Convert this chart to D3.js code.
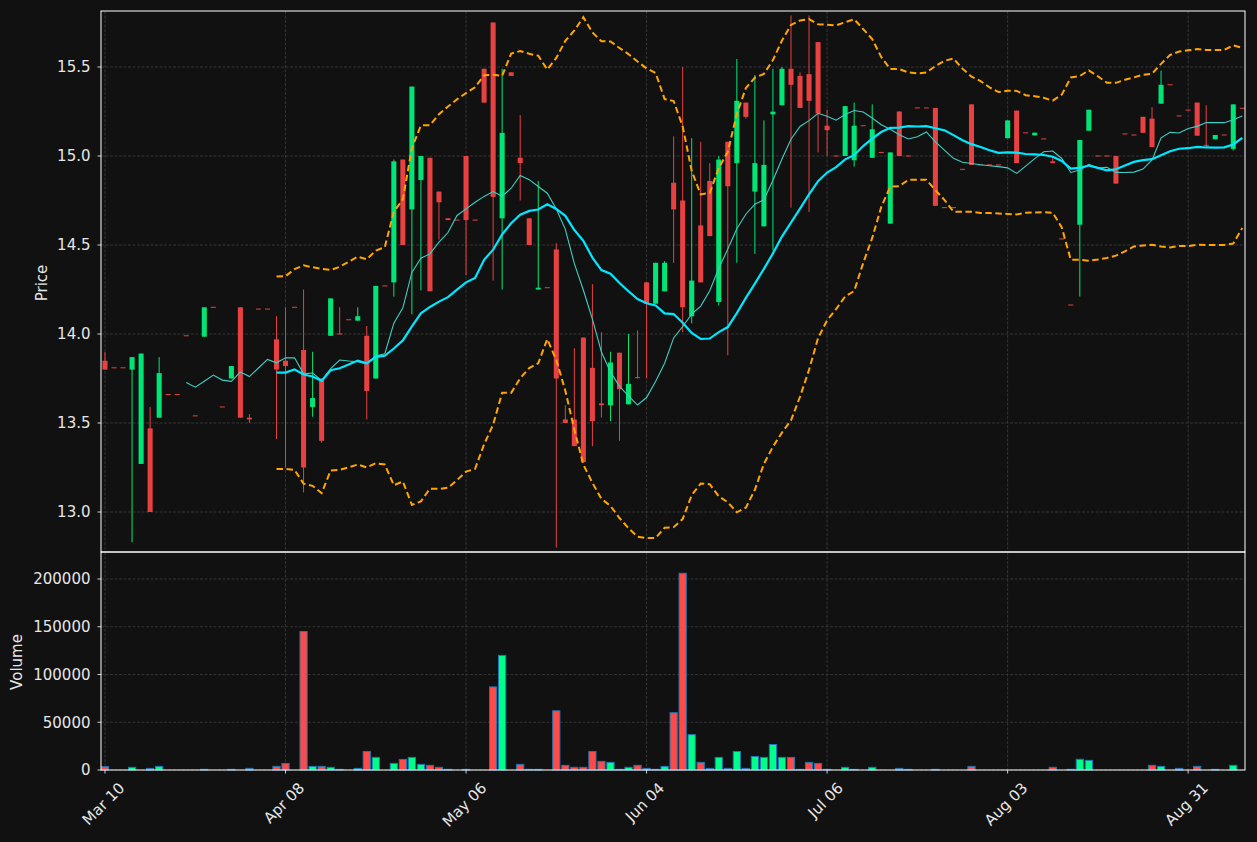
<!DOCTYPE html>
<html><head><meta charset="utf-8">
<script src="https://cdn.jsdelivr.net/npm/d3@7"></script>
<style>html,body{margin:0;padding:0;background:#111111;} svg{display:block;font-family:"DejaVu Sans",sans-serif;}</style>
</head><body><svg id="c" width="1257" height="842"></svg>
<script>
// ---------- data ----------
const tickIndex  = [0, 20, 40, 60, 80, 100, 120];
const tickLabels = ["Mar 10", "Apr 08", "May 06", "Jun 04", "Jul 06", "Aug 03", "Aug 31"];
const priceTicks = [13.0, 13.5, 14.0, 14.5, 15.0, 15.5];
const volumeTicks = [0, 50000, 100000, 150000, 200000];

const opens = [
13.85,13.81,13.81,13.80,13.27,13.47,13.53,13.66,13.66,13.99,
13.54,13.985,14.15,13.59,13.75,14.15,13.53,14.14,14.14,13.97,
13.85,14.15,13.91,13.59,13.75,13.99,14.00,14.08,14.075,13.99,
13.75,14.27,14.29,14.98,14.70,14.865,14.99,14.80,14.65,14.64,
15.00,14.64,15.49,15.75,14.65,15.47,14.99,14.65,14.25,14.26,
14.475,13.52,13.52,13.98,13.81,13.61,13.60,13.895,13.605,13.755,
14.29,14.17,14.24,14.85,14.75,14.10,14.61,14.86,14.18,15.08,
14.96,15.30,14.80,14.605,15.234,15.285,15.49,15.45,15.46,15.64,
15.17,15.00,15.00,14.976,15.17,14.99,15.02,14.62,15.25,15.00,
15.27,15.27,15.27,14.71,14.71,14.925,15.29,14.95,14.95,14.95,
15.10,15.255,15.13,15.116,15.096,14.97,14.534,14.163,14.614,15.142,
15.00,15.00,15.00,15.124,15.118,15.22,15.21,15.294,15.40,15.225,
15.258,15.30,15.06,15.094,15.118,15.04,15.268];
const highs = [
13.90,13.81,13.81,13.87,13.89,13.59,13.87,13.66,13.66,13.99,
13.54,14.15,14.15,13.59,13.82,14.15,13.55,14.14,14.14,14.10,
14.15,14.15,14.25,13.90,13.75,14.20,14.15,14.08,14.15,14.045,
14.27,14.27,14.98,14.98,15.39,15.00,14.99,14.80,14.65,14.64,
15.00,14.64,15.49,15.75,15.49,15.47,15.23,14.65,14.86,14.26,
14.51,13.60,13.92,13.98,14.28,14.01,13.90,13.895,14.00,14.02,
14.29,14.40,14.41,15.11,15.50,15.10,15.08,14.96,15.00,15.08,
15.545,15.30,15.455,15.20,15.49,15.50,15.79,15.47,15.79,15.64,
15.26,15.00,15.28,15.30,15.17,15.29,15.02,15.02,15.25,15.00,
15.27,15.27,15.27,14.71,14.71,14.925,15.29,14.95,14.95,14.95,
15.20,15.255,15.13,15.131,15.096,15.00,14.534,14.163,15.09,15.26,
15.00,15.00,15.00,15.124,15.118,15.22,15.275,15.48,15.40,15.225,
15.258,15.30,15.285,15.118,15.118,15.29,15.268];
const lows = [
13.80,13.81,13.81,12.83,13.27,13.00,13.53,13.66,13.66,13.99,
13.54,13.985,14.15,13.59,13.75,13.53,13.50,14.14,14.14,13.41,
13.25,14.15,13.11,13.535,13.39,13.99,14.00,14.08,14.075,13.52,
13.75,14.27,14.21,14.50,14.11,14.245,14.24,14.53,14.64,14.64,
14.33,14.64,15.30,14.30,14.25,15.45,14.75,14.50,14.25,14.26,
12.80,13.50,13.37,13.28,13.37,13.53,13.51,13.40,13.605,13.75,
13.75,14.17,14.24,14.40,14.01,14.06,14.29,14.55,14.16,13.88,
14.40,15.21,14.45,14.605,14.47,15.285,14.71,15.27,14.685,15.02,
15.00,15.00,15.00,14.94,15.17,14.99,15.02,14.62,15.00,15.00,
15.27,15.27,14.72,14.71,14.71,14.925,14.95,14.95,14.95,14.95,
15.10,14.96,15.13,15.116,15.096,14.96,14.534,14.163,14.21,15.142,
15.00,15.00,14.845,15.124,15.118,15.13,15.05,15.294,15.40,15.225,
15.258,15.114,15.05,15.094,15.118,15.03,15.268];
const closes = [
13.80,13.81,13.81,13.87,13.89,13.00,13.78,13.66,13.66,13.99,
13.54,14.15,14.15,13.59,13.82,13.53,13.52,14.14,14.14,13.80,
13.82,14.15,13.25,13.64,13.40,14.20,14.00,14.08,14.10,13.68,
14.27,14.27,14.97,14.50,15.39,15.00,14.24,14.74,14.64,14.64,
14.64,14.64,15.30,14.77,15.13,15.45,14.96,14.50,14.26,14.26,
13.75,13.50,13.37,13.28,13.51,13.60,13.84,13.69,13.72,13.75,
14.17,14.40,14.40,14.70,14.15,14.30,14.29,14.55,14.98,14.83,
15.31,15.22,14.96,14.95,15.249,15.49,15.40,15.27,15.31,15.24,
15.145,15.00,15.28,15.17,15.17,15.15,15.02,15.02,15.00,15.00,
15.27,15.27,14.72,14.71,14.71,14.925,14.95,14.95,14.95,14.95,
15.20,14.96,15.13,15.131,15.096,14.96,14.534,14.163,15.09,15.26,
15.00,15.00,14.845,15.124,15.118,15.13,15.05,15.40,15.40,15.225,
15.258,15.114,15.06,15.118,15.118,15.29,15.268];
const volumes = [
3500,0,0,2800,0,1700,3800,0,0,0,
0,700,0,0,700,0,1700,0,0,3800,
6900,0,145000,3800,3800,2800,700,0,1700,19400,
13200,0,6900,11100,13200,5900,4900,2800,700,0,
700,0,0,87000,120000,0,5900,700,700,0,
62000,4900,2800,2800,19400,9000,8000,700,2800,4900,
1700,700,3800,60000,206000,37000,8000,1700,13200,1700,
19400,1700,14200,13200,26700,13200,13200,700,8000,6900,
700,0,2800,700,0,2800,0,0,1700,700,
0,0,700,0,0,0,3800,0,0,0,
0,0,0,0,0,2800,0,700,11200,10100,
0,0,0,0,0,0,4900,3800,0,1700,
0,3800,0,700,0,4900,0];
const maShort = 10, maLong = 20;

// ---------- layout ----------
const L = 101, R = 1245, T = 11, MID = 552, B = 770;
const n = closes.length;
const svg = d3.select("#c");
svg.append("rect").attr("width",1257).attr("height",842).attr("fill","#111111");

const x = d3.scaleLinear().domain([-0.443, 126.3]).range([L, R]);
const y = d3.scaleLinear().domain([12.7753, 15.8146]).range([MID, T]);
const yv = d3.scaleLinear().domain([0, 228272]).range([B, MID]);
const step = x(1) - x(0);

const RED = "#e84141", GREEN = "#00e676";
const VRED = "#ff4a4a", VGREEN = "#00ff88";
const gridC = "#3c3c3c", txtC = "#e6e6e6";
const FS = 15;

// ---------- grid ----------
const grid = svg.append("g").attr("stroke", gridC).attr("stroke-width", 0.8).attr("stroke-dasharray", "3,1.5");
priceTicks.forEach(v => grid.append("line").attr("x1", L).attr("x2", R).attr("y1", y(v)).attr("y2", y(v)));
volumeTicks.forEach(v => grid.append("line").attr("x1", L).attr("x2", R).attr("y1", yv(v)).attr("y2", yv(v)));
tickIndex.forEach(i => {
  grid.append("line").attr("x1", x(i)).attr("x2", x(i)).attr("y1", T).attr("y2", MID);
  grid.append("line").attr("x1", x(i)).attr("x2", x(i)).attr("y1", MID).attr("y2", B);
});

// ---------- volume bars ----------
const idx = d3.range(n);
const vw = step * 0.8;
svg.append("g").selectAll("rect").data(idx.filter(i => volumes[i] > 0)).join("rect")
  .attr("x", i => x(i) - vw / 2).attr("width", vw)
  .attr("y", i => yv(volumes[i])).attr("height", i => yv(0) - yv(volumes[i]))
  .attr("fill", i => closes[i] > opens[i] ? VGREEN : VRED)
  .attr("stroke", "#1f77b4").attr("stroke-width", 1);

// ---------- candles ----------
const bw = step * 0.56;
const cg = svg.append("g");
cg.selectAll("line").data(idx).join("line")
  .attr("x1", i => x(i)).attr("x2", i => x(i))
  .attr("y1", i => y(highs[i])).attr("y2", i => y(lows[i]))
  .attr("stroke", i => closes[i] > opens[i] ? GREEN : RED).attr("stroke-width", 1);
cg.selectAll("rect").data(idx).join("rect")
  .attr("x", i => x(i) - bw / 2).attr("width", bw)
  .attr("y", i => Math.min(y(opens[i]), y(closes[i])) - (Math.abs(y(opens[i]) - y(closes[i])) < 1 ? 0.5 : 0))
  .attr("height", i => Math.max(1, Math.abs(y(opens[i]) - y(closes[i]))))
  .attr("fill", i => closes[i] > opens[i] ? GREEN : RED);

// ---------- indicators computed from closes ----------
function rolling(k, f) {
  return idx.map(i => i < k - 1 ? null : f(closes.slice(i - k + 1, i + 1)));
}
const ma10 = rolling(maShort, a => d3.mean(a));
const ma20 = rolling(maLong, a => d3.mean(a));
const sd20 = rolling(maLong, a => { const m = d3.mean(a); return Math.sqrt(d3.mean(a.map(v => (v - m) * (v - m)))); });
const upper = idx.map(i => ma20[i] == null ? null : ma20[i] + 2 * sd20[i]);
const lower = idx.map(i => ma20[i] == null ? null : ma20[i] - 2 * sd20[i]);

const line = arr => d3.line().defined(i => arr[i] != null).x(i => x(i)).y(i => y(arr[i]))(idx);
svg.append("path").attr("d", line(ma10)).attr("fill", "none").attr("stroke", "#3fcfc4").attr("stroke-width", 1.1);
svg.append("path").attr("d", line(ma20)).attr("fill", "none").attr("stroke", "#00e8ff").attr("stroke-width", 2.2);
[upper, lower].forEach(a => svg.append("path").attr("d", line(a)).attr("fill", "none")
  .attr("stroke", "#ffa500").attr("stroke-width", 2).attr("stroke-dasharray", "6.5,3.5"));

// ---------- axes / spines ----------
const ax = svg.append("g");
ax.append("rect").attr("x", L).attr("y", T).attr("width", R - L).attr("height", MID - T).attr("fill", "none").attr("stroke", "#ffffff").attr("stroke-width", 1);
ax.append("rect").attr("x", L).attr("y", MID).attr("width", R - L).attr("height", B - MID).attr("fill", "none").attr("stroke", "#ffffff").attr("stroke-width", 1);

priceTicks.forEach(v => {
  ax.append("line").attr("x1", L - 3.5).attr("x2", L).attr("y1", y(v)).attr("y2", y(v)).attr("stroke", "#fff").attr("stroke-width", 0.8);
  ax.append("text").attr("x", L - 10.5).attr("y", y(v)).attr("dy", "0.36em").attr("text-anchor", "end")
    .attr("font-size", FS).attr("fill", txtC).text(v.toFixed(1));
});
volumeTicks.forEach(v => {
  ax.append("line").attr("x1", L - 3.5).attr("x2", L).attr("y1", yv(v)).attr("y2", yv(v)).attr("stroke", "#fff").attr("stroke-width", 0.8);
  ax.append("text").attr("x", L - 10.5).attr("y", yv(v)).attr("dy", "0.36em").attr("text-anchor", "end")
    .attr("font-size", FS).attr("fill", txtC).text(String(v));
});
tickIndex.forEach((t, k) => {
  ax.append("line").attr("x1", x(t)).attr("x2", x(t)).attr("y1", B).attr("y2", B + 3.5).attr("stroke", "#fff").attr("stroke-width", 0.8);
  const tx = ax.append("text").attr("text-anchor", "end").attr("font-size", FS).attr("fill", txtC).text(tickLabels[k]);
  const len = tx.node().getComputedTextLength();
  const axp = x(t) + 0.354 * len + 2, ayp = 789;
  tx.attr("transform", `translate(${axp},${ayp}) rotate(-45)`);
});
ax.append("text").attr("transform", "translate(47,283) rotate(-90)").attr("text-anchor", "middle")
  .attr("font-size", FS).attr("fill", txtC).text("Price");
ax.append("text").attr("transform", "translate(22,662) rotate(-90)").attr("text-anchor", "middle")
  .attr("font-size", FS).attr("fill", txtC).text("Volume");
</script></body></html>
